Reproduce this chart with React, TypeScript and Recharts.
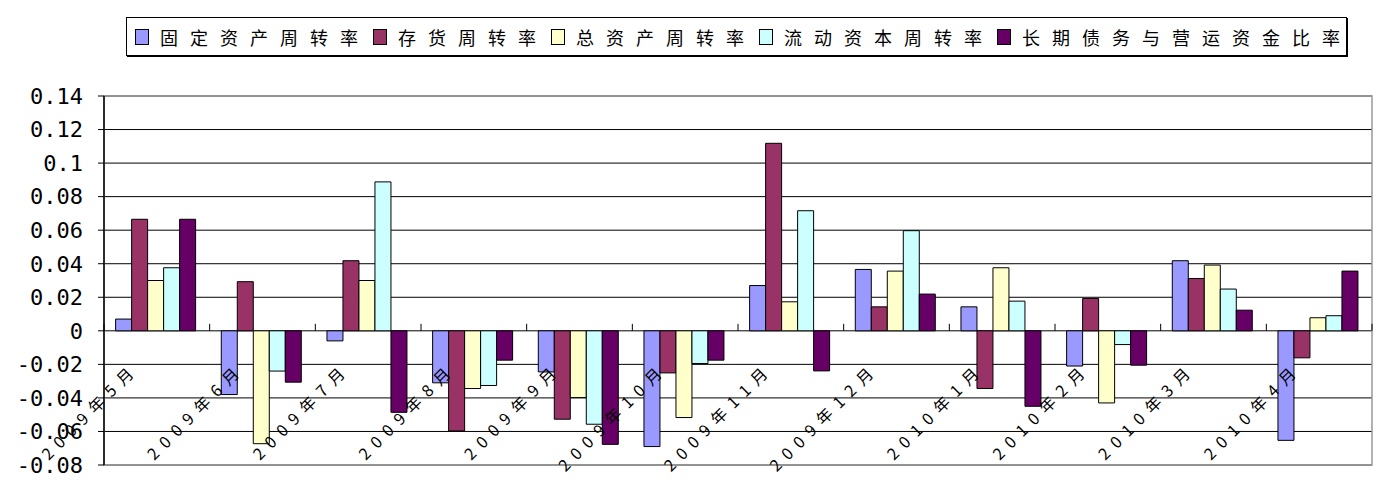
import React from 'react';
import { BarChart, Bar, XAxis, YAxis, CartesianGrid, Legend, ReferenceArea } from 'recharts';

const categories = ['2009年5月', '2009年6月', '2009年7月', '2009年8月', '2009年9月', '2009年10月', '2009年11月', '2009年12月', '2010年1月', '2010年2月', '2010年3月', '2010年4月'];

const seriesNames = ['固定资产周转率', '存货周转率', '总资产周转率', '流动资本周转率', '长期债务与营运资金比率'];
const seriesColors = ['#9999FF', '#993366', '#FFFFCC', '#CCFFFF', '#660066'];

const fixedAssetTurnover = [0.007, -0.038, -0.006, -0.031, -0.0245, -0.069, 0.027, 0.0366, 0.0143, -0.021, 0.0418, -0.0653];
const inventoryTurnover = [0.0665, 0.0293, 0.0418, -0.0597, -0.0527, -0.0251, 0.1118, 0.0143, -0.0344, 0.0193, 0.0312, -0.0161];
const totalAssetTurnover = [0.03, -0.0673, 0.03, -0.0344, -0.0398, -0.0517, 0.0173, 0.0356, 0.0376, -0.043, 0.0392, 0.0078];
const workingCapitalTurnover = [0.0376, -0.024, 0.0888, -0.0326, -0.0557, -0.0195, 0.0716, 0.0597, 0.0177, -0.0082, 0.0249, 0.009];
const longDebtToWorkingCapital = [0.0665, -0.0306, -0.0486, -0.0175, -0.0677, -0.0175, -0.0239, 0.0219, -0.045, -0.0205, 0.0123, 0.0356];

const yTicks = [-0.08, -0.06, -0.04, -0.02, 0, 0.02, 0.04, 0.06, 0.08, 0.1, 0.12, 0.14];
const yTickLabels = ['-0.08', '-0.06', '-0.04', '-0.02', '0', '0.02', '0.04', '0.06', '0.08', '0.1', '0.12', '0.14'];

const seriesValues = [fixedAssetTurnover, inventoryTurnover, totalAssetTurnover, workingCapitalTurnover, longDebtToWorkingCapital];
const seriesKeys = ['s0', 's1', 's2', 's3', 's4'];

const data = categories.map((c, i) => {
  const row: Record<string, number | string> = { name: c };
  seriesKeys.forEach((k, j) => {
    row[k] = seriesValues[j][i];
  });
  return row;
});

const CHART_W = 1377;
const CHART_H = 489;
const MARGIN = { top: 96, right: 5, bottom: 23, left: 0 };
const XAXIS_H = 1;
const YAXIS_W = 104;
const Y_MIN = yTicks[0];
const Y_MAX = yTicks[yTicks.length - 1];
const PLOT_H = CHART_H - MARGIN.top - MARGIN.bottom - XAXIS_H;
const PLOT_W = CHART_W - MARGIN.left - MARGIN.right - YAXIS_W;
const BAND = PLOT_W / categories.length;

const CategoryTick = (props: any) => {
  const { x, y, payload, index } = props;
  const zeroY = y - (PLOT_H * (0 - Y_MIN)) / (Y_MAX - Y_MIN);
  const ax = x - 17;
  const ay = zeroY + 39;
  const left = x - BAND / 2;
  const right = x + BAND / 2;
  return (
    <g>
      <line x1={left} y1={zeroY} x2={left} y2={zeroY - 7} stroke="#000" strokeWidth={1} />
      {index === categories.length - 1 && (
        <line x1={right} y1={zeroY} x2={right} y2={zeroY - 7} stroke="#000" strokeWidth={1} />
      )}
      <text
        x={ax}
        y={ay}
        transform={`rotate(-45 ${ax} ${ay})`}
        textAnchor="end"
        fontSize={16}
        letterSpacing={7.5}
        fontFamily="'Noto Sans CJK SC', sans-serif"
        fill="#000"
      >
        {payload.value}
      </text>
    </g>
  );
};

const LegendContent = () => (
  <div
    style={{
      boxSizing: 'border-box',
      height: 39,
      width: 1221,
      border: '1.5px solid #000',
      boxShadow: '1px 1px 0 #000',
      background: '#fff',
      display: 'flex',
      alignItems: 'center',
      paddingLeft: 8,
      fontFamily: "'Noto Sans CJK SC', sans-serif",
      fontSize: 18,
      letterSpacing: 12,
      color: '#000',
      whiteSpace: 'nowrap',
    }}
  >
    {seriesNames.map((n, i) => (
      <div key={n} style={{ display: 'flex', alignItems: 'center', marginRight: 3 }}>
        <span
          style={{
            display: 'inline-block',
            width: 14,
            height: 16,
            boxSizing: 'border-box',
            border: '1.5px solid #000',
            background: seriesColors[i],
            marginRight: 11,
          }}
        />
        <span style={{ lineHeight: '20px' }}>{n}</span>
      </div>
    ))}
  </div>
);

export default function App() {
  return (
    <div style={{ position: 'absolute', left: 0, top: 0, background: '#fff' }}>
      <BarChart
        width={CHART_W}
        height={CHART_H}
        data={data}
        margin={MARGIN}
        barCategoryGap="11%"
        barGap={0}
      >
        <CartesianGrid vertical={false} stroke="#000" strokeWidth={1} />
        <ReferenceArea y1={Y_MIN} y2={Y_MAX} fill="none" stroke="#999" strokeWidth={1.5} ifOverflow="extendDomain" />
        <YAxis
          width={YAXIS_W}
          domain={[Y_MIN, Y_MAX]}
          ticks={yTicks}
          interval={0}
          tickFormatter={(v: number, i: number) => yTickLabels[i]}
          axisLine={{ stroke: '#000', strokeWidth: 1.5 }}
          tickLine={{ stroke: '#000' }}
          tickSize={6}
          tickMargin={15}
          tick={{ fill: '#000', fontSize: 22, fontFamily: "'DejaVu Sans Mono', monospace" }}
        />
        {seriesKeys.map((k, i) => (
          <Bar
            key={k}
            dataKey={k}
            name={seriesNames[i]}
            fill={seriesColors[i]}
            stroke="#000"
            strokeWidth={1}
            isAnimationActive={false}
          />
        ))}
        <XAxis
          dataKey="name"
          height={XAXIS_H}
          interval={0}
          axisLine={false}
          tickLine={false}
          tickSize={0}
          tickMargin={0}
          tick={(p: any) => <CategoryTick {...p} />}
        />
        <Legend
          verticalAlign="middle"
          layout="horizontal"
          content={<LegendContent />}
          wrapperStyle={{ top: 17, left: 126, width: 1221, height: 39 }}
        />
      </BarChart>
    </div>
  );
}
